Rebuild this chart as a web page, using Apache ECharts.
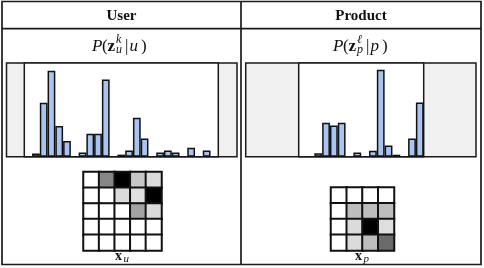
<!DOCTYPE html>
<html><head><meta charset="utf-8">
<script src="https://cdn.jsdelivr.net/npm/echarts@6/dist/echarts.min.js"></script>
<style>html,body{margin:0;padding:0;background:#fff}#c{width:484px;height:268px}</style>
</head><body><div id="c"></div>
<script>
// ---- data ----
const userTopics = ['0','1','2','3','4','5','6','7','8','9','10','11','12','13','14','15','16','17','18','19','20','21','22','23','24'];
const userProb   = [0,0.008,0.131,0.209,0.075,0.038,0,0.010,0.056,0.056,0.188,0,0.005,0.015,0.095,0.044,0,0.010,0.015,0.010,0,0.022,0,0.015,0];
const prodTopics = ['0','1','2','3','4','5','6','7','8','9','10','11','12','13','14','15'];
const prodProb   = [0,0,0.012,0.119,0.109,0.119,0,0.015,0,0.021,0.305,0.039,0.007,0,0.064,0.190];
const userGrid = [
  [0,0.47,1,0.22,0.14],
  [0,0,0.14,0.12,1],
  [0,0,0,0.36,0.14],
  [0,0,0,0,0],
  [0,0,0,0,0]
];
const prodGrid = [
  [0,0,0,0],
  [0,0.26,0.26,0.26],
  [0,0.14,1,0.13],
  [0,0.14,0.26,0.58]
];
const headers = ['User','Product'];

// ---- layout ----
const SERIF = '"Liberation Serif","DejaVu Serif",serif';
const LINE = '#1a1a1a';
const frameTop = 63, frameH = 93.7;
const frames = [ {x:6.5, w:230.5, ix:24.3, iw:194}, {x:245.7, w:230.3, ix:298.7, iw:125} ];
const hm = [ {x:83.5, y:172, w:78, h:78.5}, {x:331, y:187.5, w:63, h:63} ];

function toHeat(g){ const out=[]; g.forEach((row,r)=>row.forEach((v,c)=>out.push([c,r,v]))); return out; }
const nul = a => a.map(v => v===0 ? null : v);

const graphics = [];
// table
graphics.push({type:'rect', shape:{x:2,y:1.5,width:479,height:263}, style:{fill:'none',stroke:LINE,lineWidth:1.7}, z:0});
graphics.push({type:'line', shape:{x1:2,y1:28.7,x2:481,y2:28.7}, style:{stroke:LINE,lineWidth:1.7}, z:0});
graphics.push({type:'line', shape:{x1:241,y1:1.5,x2:241,y2:264.5}, style:{stroke:LINE,lineWidth:1.7}, z:0});
// headers
[121.5, 361].forEach((cx,i)=>graphics.push({type:'text', style:{text:headers[i], x:cx, y:16, font:'bold 15px '+SERIF, textAlign:'center', textVerticalAlign:'middle', fill:'#111'}, z:1}));
// frames
frames.forEach(f=>{
  graphics.push({type:'rect', shape:{x:f.x,y:frameTop,width:f.w,height:frameH}, style:{fill:'#f0f0f0',stroke:LINE,lineWidth:1.5}, z:0});
  graphics.push({type:'rect', shape:{x:f.ix,y:frameTop,width:f.iw,height:frameH}, style:{fill:'#ffffff',stroke:LINE,lineWidth:1.5}, z:0});
});
// math labels
function mathLabel(x0, sup, sub, arg){
  const it = 'italic 17px '+SERIF, up = '17px '+SERIF, bd = 'bold 17px '+SERIF, sm = 'italic 12px '+SERIF;
  const parts = [
    ['P',0,46.5,it],['(',10,46.5,up],['z',15.5,46.5,bd],[sup,24,39.5,sm],[sub,24,49.5,sm],
    ['|',33,46.5,up],[arg,37.5,46.5,it],[')',49,46.5,up]
  ];
  parts.forEach(p=>graphics.push({type:'text', style:{text:p[0], x:x0+p[1], y:p[2], font:p[3], textAlign:'left', textVerticalAlign:'middle', fill:'#111'}, z:1}));
}
mathLabel(92,'k','u','u');
mathLabel(333,'\u2113','p','p');
// x labels
function xLabel(x0, sub){
  graphics.push({type:'text', style:{text:'x', x:x0, y:256.5, font:'bold 14px '+SERIF, textAlign:'left', textVerticalAlign:'middle', fill:'#111'}, z:1});
  graphics.push({type:'text', style:{text:sub, x:x0+8.5, y:259.5, font:'italic 11px '+SERIF, textAlign:'left', textVerticalAlign:'middle', fill:'#111'}, z:1});
}
xLabel(115,'u');
xLabel(355,'p');

const chart = echarts.init(document.getElementById('c'), null, {renderer:'canvas'});
chart.setOption({
  animation:false,
  backgroundColor:'#fff',
  graphic:{elements:graphics},
  grid:[
    {left:frames[0].ix, top:frameTop, width:frames[0].iw, height:frameH},
    {left:frames[1].ix, top:frameTop, width:frames[1].iw, height:frameH},
    {left:hm[0].x, top:hm[0].y, width:hm[0].w, height:hm[0].h},
    {left:hm[1].x, top:hm[1].y, width:hm[1].w, height:hm[1].h}
  ],
  xAxis:[
    {type:'category', gridIndex:0, data:userTopics, show:false},
    {type:'category', gridIndex:1, data:prodTopics, show:false},
    {type:'category', gridIndex:2, data:[0,1,2,3,4], show:false},
    {type:'category', gridIndex:3, data:[0,1,2,3], show:false}
  ],
  yAxis:[
    {type:'value', gridIndex:0, min:0, max:0.228, show:false},
    {type:'value', gridIndex:1, min:0, max:0.3285, show:false},
    {type:'category', gridIndex:2, data:[0,1,2,3,4], inverse:true, show:false},
    {type:'category', gridIndex:3, data:[0,1,2,3], inverse:true, show:false}
  ],
  visualMap:{show:false, min:0, max:1, seriesIndex:[2,3], inRange:{color:['#ffffff','#000000']}},
  series:[
    {type:'bar', xAxisIndex:0, yAxisIndex:0, data:nul(userProb), barCategoryGap:'0%', itemStyle:{color:'#a9c5ef', borderColor:'#111', borderWidth:1.5}},
    {type:'bar', xAxisIndex:1, yAxisIndex:1, data:nul(prodProb), barCategoryGap:'0%', itemStyle:{color:'#a9c5ef', borderColor:'#111', borderWidth:1.5}},
    {type:'heatmap', xAxisIndex:2, yAxisIndex:2, data:toHeat(userGrid), itemStyle:{borderColor:'#111', borderWidth:2}, emphasis:{disabled:true}},
    {type:'heatmap', xAxisIndex:3, yAxisIndex:3, data:toHeat(prodGrid), itemStyle:{borderColor:'#111', borderWidth:2}, emphasis:{disabled:true}}
  ]
});
</script></body></html>
